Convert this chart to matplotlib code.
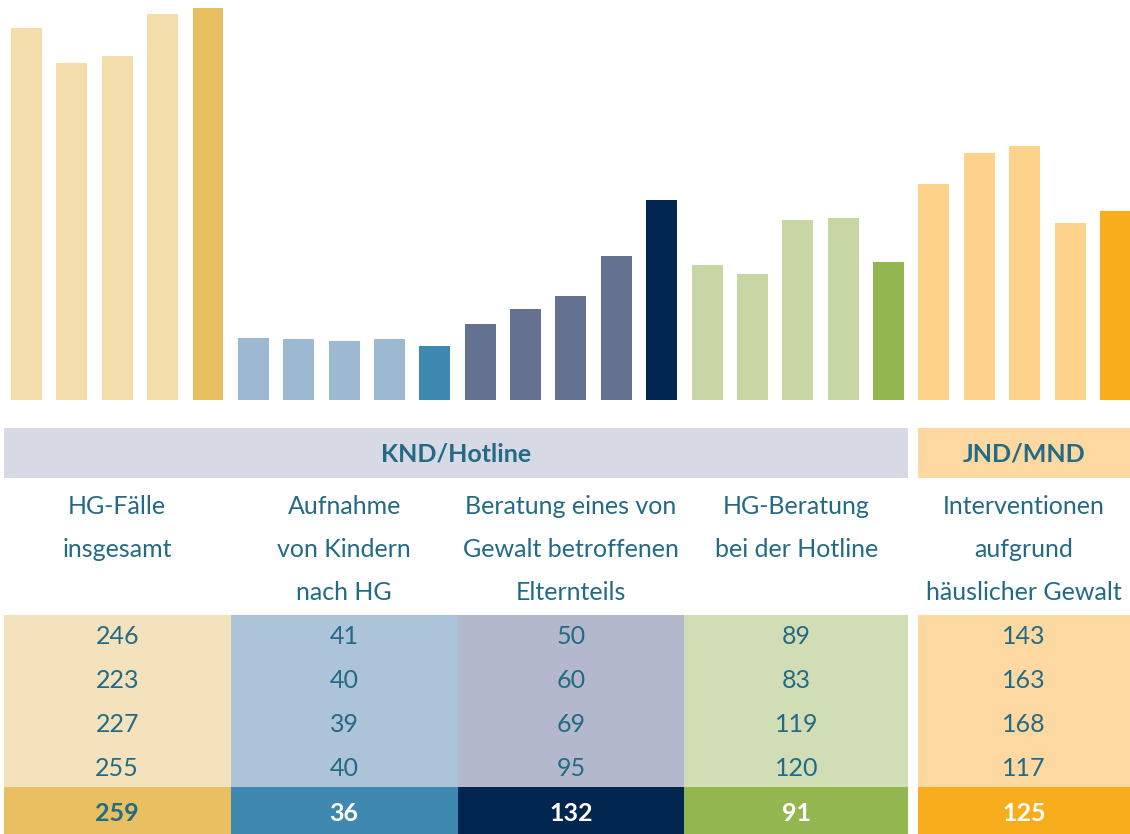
import numpy as np
import matplotlib.pyplot as plt
from matplotlib.patches import Rectangle

plt.rcParams['font.family'] = ['Lato', 'DejaVu Sans']

# --- data ---
labels = ['HG-Fälle\ninsgesamt',
          'Aufnahme\nvon Kindern\nnach HG',
          'Beratung eines von\nGewalt betroffenen\nElternteils',
          'HG-Beratung\nbei der Hotline',
          'Interventionen\naufgrund\nhäuslicher Gewalt']
headers = ['KND/Hotline', 'JND/MND']
hg_faelle = [246, 223, 227, 255, 259]
aufnahme = [41, 40, 39, 40, 36]
beratung = [50, 60, 69, 95, 132]
hotline = [89, 83, 119, 120, 91]
interventionen = [143, 163, 168, 117, 125]
series = [hg_faelle, aufnahme, beratung, hotline, interventionen]

# colours
light = ['#f2ddab', '#9cb9d1', '#647190', '#c7d6a2', '#fdd28a']
dark = ['#e8c062', '#3f89b0', '#012650', '#93b651', '#f8ad1c']
cell_bg = ['#f3e2bb', '#adc3da', '#b3b8cc', '#d1ddb4', '#fdd8a0']
last_txt = ['#236a85', 'white', 'white', 'white', 'white']
txt = '#236a85'

fig = plt.figure(figsize=(11.3, 8.34), dpi=100)
xlim = (-0.584, 24.32)

# --- bars ---
ax = fig.add_axes([0, 1 - 400 / 834, 1, 400 / 834])
for g, vals in enumerate(series):
    x = g * 5 + np.arange(len(vals))
    cols = [light[g]] * (len(vals) - 1) + [dark[g]]
    ax.bar(x, vals, width=0.683, color=cols)
ax.set_xlim(*xlim)
ax.set_ylim(0, 264.3)
ax.axis('off')

# --- table below (y in pixel rows, top down) ---
tab = fig.add_axes([0, 0, 1, 434 / 834])
tab.set_xlim(*xlim)
tab.set_ylim(834, 400)
tab.axis('off')

col_left = [-0.5, 4.5, 9.5, 14.5, 19.65]
col_right = [4.5, 9.5, 14.5, 19.43, xlim[1]]
fs = 18

# header row
hdr_spans = [(col_left[0], col_right[3], '#d7d9e5'), (col_left[4], col_right[4], '#fdd8a0')]
for (l, r, c), h in zip(hdr_spans, headers):
    tab.add_patch(Rectangle((l, 428), r - l, 50, color=c, lw=0))
    tab.text((l + r) / 2, 454, h, ha='center', va='center', fontsize=fs,
             fontweight='bold', color=txt)

# column labels
for i, lab in enumerate(labels):
    cx = (col_left[i] + col_right[i]) / 2
    for k, line in enumerate(lab.split('\n')):
        tab.text(cx, 506 + 43.5 * k, line, ha='center', va='center',
                 fontsize=fs, color=txt)

# values
for i, vals in enumerate(series):
    l, r = col_left[i], col_right[i]
    cx = (l + r) / 2
    tab.add_patch(Rectangle((l, 615), r - l, 172, color=cell_bg[i], lw=0))
    tab.add_patch(Rectangle((l, 787), r - l, 47, color=dark[i], lw=0))
    for k, v in enumerate(vals):
        last = k == len(vals) - 1
        tab.text(cx, 637 + 43.9 * k + (1 if last else 0), str(v), ha='center', va='center',
                 fontsize=fs, color=last_txt[i] if last else txt,
                 fontweight='bold' if last else 'normal')

fig.savefig('out.png', dpi=100)
